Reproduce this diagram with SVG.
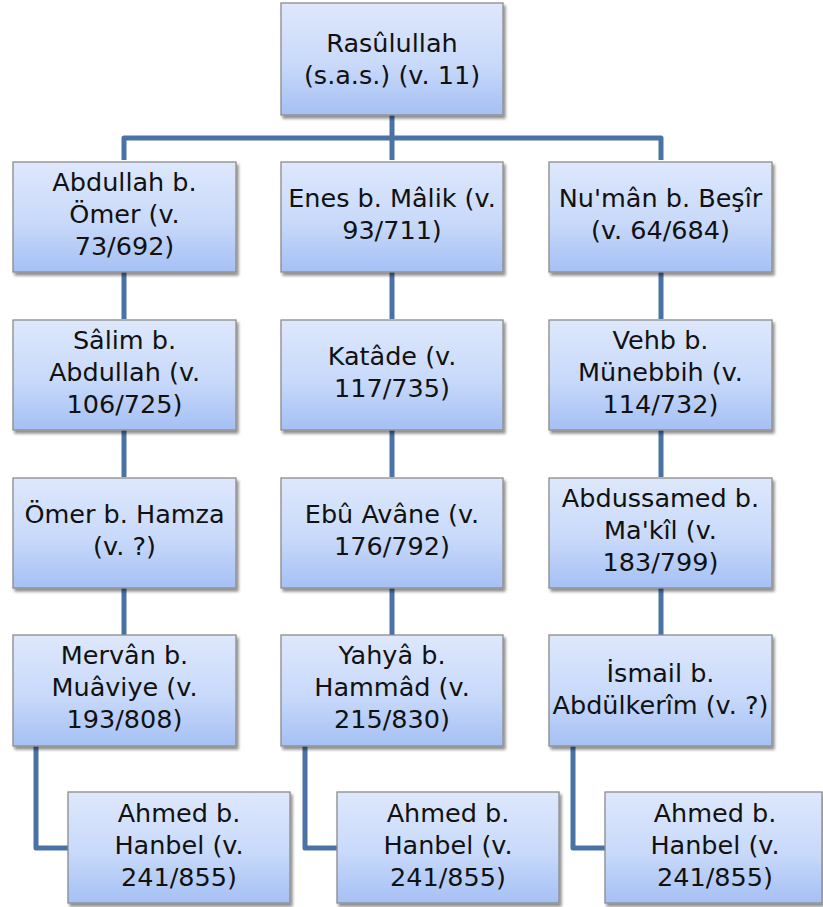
<svg xmlns="http://www.w3.org/2000/svg" width="823" height="907" viewBox="0 0 823 907">
  <defs>
    <linearGradient id="boxFill" x1="0" y1="0" x2="0" y2="1">
      <stop offset="0" stop-color="#dee8fc"/>
      <stop offset="0.55" stop-color="#c8d9fa"/>
      <stop offset="1" stop-color="#a5c0f4"/>
    </linearGradient>
    <filter id="shadow" x="-5%" y="-5%" width="115%" height="120%">
      <feGaussianBlur in="SourceAlpha" stdDeviation="1.5"/>
      <feOffset dx="2" dy="2.5" result="b"/>
      <feComponentTransfer><feFuncA type="linear" slope="0.45"/></feComponentTransfer>
      <feMerge><feMergeNode/><feMergeNode in="SourceGraphic"/></feMerge>
    </filter>
  </defs>
  <style>
    .box { fill: url(#boxFill); stroke: #8c8c8c; stroke-width: 1.3; filter: url(#shadow); }
    .lbl { font-family: "DejaVu Sans", "Liberation Sans", sans-serif; font-size: 25.5px; fill: #111; text-anchor: middle; }
    .link { fill: none; stroke: #4a72a6; stroke-width: 5; stroke-linejoin: round; }
  </style>

  <rect width="823" height="907" fill="#ffffff"/>

  <g id="connectors">
    <path class="link" d="M392 115 V138 M124 160 V138 H661 V160 M392 138 V160"/>
    <path class="link" d="M124 272 V319 M124 430 V477 M124 588 V635"/>
    <path class="link" d="M392 272 V319 M392 430 V477 M392 588 V635"/>
    <path class="link" d="M661 272 V319 M661 430 V477 M661 588 V635"/>
    <path class="link" d="M36 746 V848 H68"/>
    <path class="link" d="M305 746 V848 H337"/>
    <path class="link" d="M573 746 V848 H605"/>
  </g>

  <g id="n-rasulullah">
    <rect class="box" x="281" y="3" width="222" height="112"/>
    <text class="lbl" x="392" y="52">Rasûlullah</text>
    <text class="lbl" x="392" y="84">(s.a.s.) (v. 11)</text>
  </g>

  <g id="n-abdullah">
    <rect class="box" x="13" y="162" width="223" height="110"/>
    <text class="lbl" x="124.5" y="191">Abdullah b.</text>
    <text class="lbl" x="124.5" y="223">Ömer (v.</text>
    <text class="lbl" x="124.5" y="255">73/692)</text>
  </g>
  <g id="n-enes">
    <rect class="box" x="281" y="162" width="222" height="110"/>
    <text class="lbl" x="392" y="207">Enes b. Mâlik (v.</text>
    <text class="lbl" x="392" y="239">93/711)</text>
  </g>
  <g id="n-numan">
    <rect class="box" x="549" y="162" width="223" height="110"/>
    <text class="lbl" x="660.5" y="207">Nu'mân b. Beşîr</text>
    <text class="lbl" x="660.5" y="239">(v. 64/684)</text>
  </g>

  <g id="n-salim">
    <rect class="box" x="13" y="320" width="223" height="110"/>
    <text class="lbl" x="124.5" y="349">Sâlim b.</text>
    <text class="lbl" x="124.5" y="381">Abdullah (v.</text>
    <text class="lbl" x="124.5" y="413">106/725)</text>
  </g>
  <g id="n-katade">
    <rect class="box" x="281" y="320" width="222" height="110"/>
    <text class="lbl" x="392" y="365">Katâde (v.</text>
    <text class="lbl" x="392" y="397">117/735)</text>
  </g>
  <g id="n-vehb">
    <rect class="box" x="549" y="320" width="223" height="110"/>
    <text class="lbl" x="660.5" y="349">Vehb b.</text>
    <text class="lbl" x="660.5" y="381">Münebbih (v.</text>
    <text class="lbl" x="660.5" y="413">114/732)</text>
  </g>

  <g id="n-omer-hamza">
    <rect class="box" x="13" y="478" width="223" height="110"/>
    <text class="lbl" x="124.5" y="523">Ömer b. Hamza</text>
    <text class="lbl" x="124.5" y="555">(v. ?)</text>
  </g>
  <g id="n-ebu-avane">
    <rect class="box" x="281" y="478" width="222" height="110"/>
    <text class="lbl" x="392" y="523">Ebû Avâne (v.</text>
    <text class="lbl" x="392" y="555">176/792)</text>
  </g>
  <g id="n-abdussamed">
    <rect class="box" x="549" y="478" width="223" height="110"/>
    <text class="lbl" x="660.5" y="507">Abdussamed b.</text>
    <text class="lbl" x="660.5" y="539">Ma'kîl (v.</text>
    <text class="lbl" x="660.5" y="571">183/799)</text>
  </g>

  <g id="n-mervan">
    <rect class="box" x="13" y="635" width="223" height="111"/>
    <text class="lbl" x="124.5" y="664">Mervân b.</text>
    <text class="lbl" x="124.5" y="696">Muâviye (v.</text>
    <text class="lbl" x="124.5" y="728">193/808)</text>
  </g>
  <g id="n-yahya">
    <rect class="box" x="281" y="635" width="222" height="111"/>
    <text class="lbl" x="392" y="664">Yahyâ b.</text>
    <text class="lbl" x="392" y="696">Hammâd (v.</text>
    <text class="lbl" x="392" y="728">215/830)</text>
  </g>
  <g id="n-ismail">
    <rect class="box" x="549" y="635" width="223" height="111"/>
    <text class="lbl" x="660.5" y="682">İsmail b.</text>
    <text class="lbl" x="660.5" y="714">Abdülkerîm (v. ?)</text>
  </g>

  <g id="n-ahmed-1">
    <rect class="box" x="68" y="792" width="222" height="111"/>
    <text class="lbl" x="179" y="822">Ahmed b.</text>
    <text class="lbl" x="179" y="854">Hanbel (v.</text>
    <text class="lbl" x="179" y="886">241/855)</text>
  </g>
  <g id="n-ahmed-2">
    <rect class="box" x="337" y="792" width="222" height="111"/>
    <text class="lbl" x="448" y="822">Ahmed b.</text>
    <text class="lbl" x="448" y="854">Hanbel (v.</text>
    <text class="lbl" x="448" y="886">241/855)</text>
  </g>
  <g id="n-ahmed-3">
    <rect class="box" x="605" y="792" width="217" height="111"/>
    <text class="lbl" x="715" y="822">Ahmed b.</text>
    <text class="lbl" x="715" y="854">Hanbel (v.</text>
    <text class="lbl" x="715" y="886">241/855)</text>
  </g>
</svg>
